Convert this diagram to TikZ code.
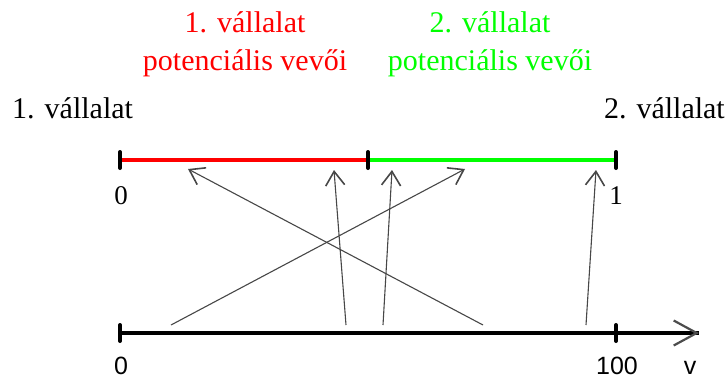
\documentclass[tikz,border=0pt]{standalone}
\usepackage{fontspec}
\setmainfont{Liberation Serif}
\newfontfamily\arialfont{Liberation Sans}
\usetikzlibrary{arrows.meta,calc}
\definecolor{vred}{RGB}{255,0,0}
\definecolor{vgreen}{RGB}{0,255,0}
\tikzset{
    lbl/.style={
        inner sep=0pt,
        font=\fontsize{30}{36}\selectfont
    },
    num/.style={
        inner sep=0pt,
        font=\fontsize{27}{32}\selectfont
    },
    snum/.style={
        inner sep=0pt,
        font=\arialfont\fontsize{25}{30}\selectfont
    },
    axis/.style={
        line width=4pt
    },
    tick/.style={
        line width=4pt,
        line cap=round
    },
    vevo/.style={
        -{Straight Barb[length=14pt,width=19pt,line width=1.6pt]},
        line width=1.1pt,
        draw=black!72
    }
}

\begin{document}
\begin{tikzpicture}[x=1pt,y=-1pt]
\useasboundingbox (0,0) rectangle (728,380);

% axis points
\coordinate (t0) at (120,160);
\coordinate (tm) at (368,160);
\coordinate (t1) at (616,160);
\coordinate (b0) at (120,333);
\coordinate (b1) at (616,333);
\coordinate (bv) at (699,333);

% labels
\node[lbl, text=vred, anchor=base] (r1) at (245,32) {1. vállalat};
\node[lbl, text=vred, anchor=base] (r2) at (245,70) {potenciális vevői};
\node[lbl, text=vgreen, anchor=base] (g1) at (490,32) {2. vállalat};
\node[lbl, text=vgreen, anchor=base] (g2) at (490,70) {potenciális vevői};
\node[lbl, anchor=base west] (v1) at (12,118) {1. vállalat};
\node[lbl, anchor=base east] (v2) at (725,118) {2. vállalat};

\node[num, anchor=base] (n0) at (121,204) {0};
\node[num, anchor=base] (n1) at (616,204) {1};
\node[snum, anchor=base] (m0) at (121,374) {0};
\node[snum, anchor=base] (m100) at (617,374) {100};
\node[snum, anchor=base] (mv) at (690,374) {v};

% lines
\draw[axis, vred] (t0) -- (tm);
\draw[axis, vgreen, line cap=round] (tm) -- (t1);
\draw[axis] (b0) -- (bv);
\draw[-{Straight Barb[length=23pt,width=25pt,line width=2.2pt]}, draw=black!70, line width=0.1pt]
    ($(bv)+(-1,0)$) -- (bv);

% ticks
\foreach \p in {t0,tm,t1,b0,b1}
    \draw[tick] ($(\p)+(0,-8)$) -- ($(\p)+(0,8)$);

% arrows
\coordinate (s1) at (483,325);
\coordinate (e1) at (188,169);
\coordinate (s2) at (171,325);
\coordinate (e2) at (465,169);
\coordinate (s3) at (346,325);
\coordinate (e3) at (334,170);
\coordinate (s4) at (383,325);
\coordinate (e4) at (392,170);
\coordinate (s5) at (586,325);
\coordinate (e5) at (596,170);

\draw[vevo] (s1) -- (e1);
\draw[vevo] (s2) -- (e2);
\draw[vevo] (s3) -- (e3);
\draw[vevo] (s4) -- (e4);
\draw[vevo] (s5) -- (e5);

\end{tikzpicture}
\end{document}
